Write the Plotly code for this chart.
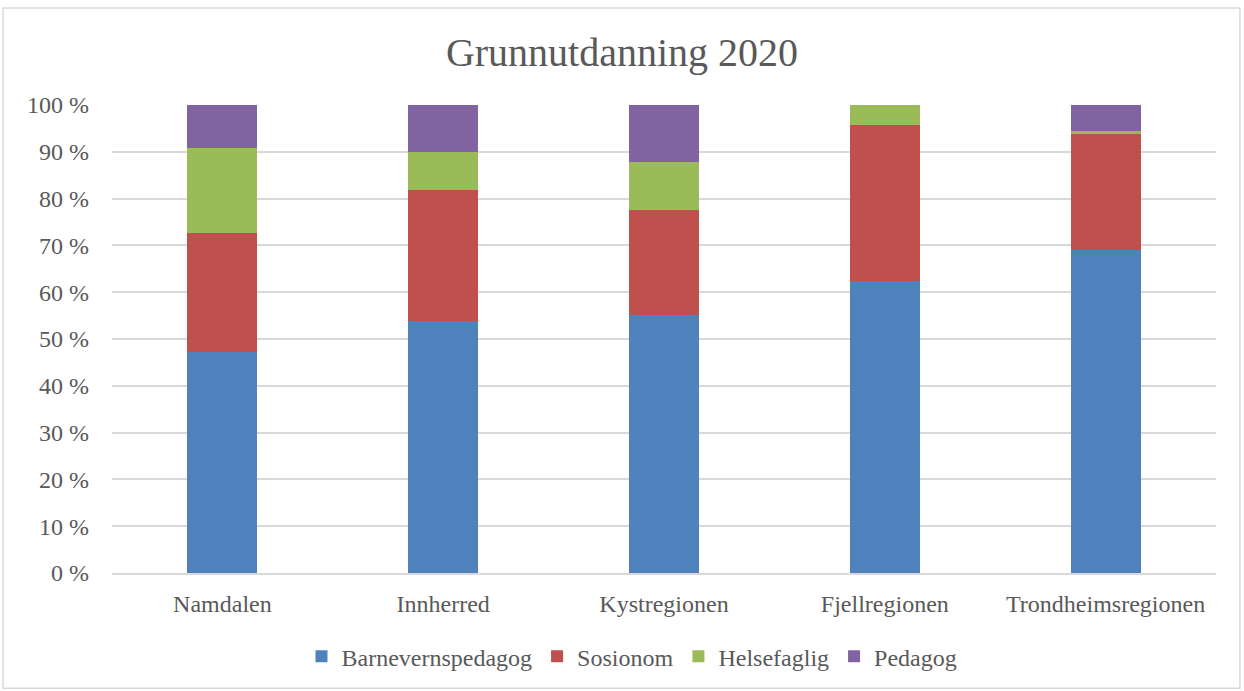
import plotly.graph_objects as go

categories = ["Namdalen", "Innherred", "Kystregionen", "Fjellregionen", "Trondheimsregionen"]
series_names = ["Barnevernspedagog", "Sosionom", "Helsefaglig", "Pedagog"]
barnevernspedagog = [47.2, 53.8, 55.1, 62.5, 69.0]
sosionom = [25.5, 28.1, 22.4, 33.3, 24.9]
helsefaglig = [18.2, 8.0, 10.3, 4.2, 0.6]
pedagog = [9.1, 10.1, 12.2, 0.0, 5.5]
tick_vals = [0, 10, 20, 30, 40, 50, 60, 70, 80, 90, 100]
tick_text = [f"{v} %" for v in tick_vals]

colors = ["#4F81BD", "#C0504D", "#9BBB59", "#8064A2"]
values = [barnevernspedagog, sosionom, helsefaglig, pedagog]

font_family = "Liberation Serif, DejaVu Serif, serif"

fig = go.Figure()
for name, vals, col in zip(series_names, values, colors):
    fig.add_trace(go.Bar(x=categories, y=vals, name=name, marker_color=col,
                         marker_line_width=0))

fig.update_layout(
    barmode="stack",
    bargap=0.683,
    width=1244, height=691,
    margin=dict(l=112, r=28, t=105, b=118),
    paper_bgcolor="white", plot_bgcolor="white",
    title=dict(text="Grunnutdanning 2020", x=0.5, xanchor="center", y=1 - 52/691, yanchor="middle",
               font=dict(family=font_family, size=40, color="#595959")),
    font=dict(family=font_family, color="#595959", size=24),
    legend=dict(orientation="h", x=0.471, xanchor="center", y=-0.179, yanchor="middle",
                font=dict(size=24, color="#595959"), traceorder="normal",
                itemwidth=30),
    showlegend=True,
)
fig.update_yaxes(range=[0, 100], tickvals=tick_vals, ticktext=tick_text,
                 showgrid=True, gridcolor="#D9D9D9", gridwidth=1.5,
                 zeroline=False, showline=False, ticks="", ticklabelstandoff=22,
                 tickfont=dict(size=24, color="#595959"))
fig.update_xaxes(showgrid=False, showline=True, linecolor="#D9D9D9", linewidth=1.5,
                 ticks="", ticklabelstandoff=8, tickfont=dict(size=24, color="#595959"))

fig.add_shape(type="rect", xref="paper", yref="paper",
              x0=-0.0987, x1=1.0217, y0=-0.246, y1=1.207,
              line=dict(color="#D9D9D9", width=1.5), fillcolor="rgba(0,0,0,0)", layer="below")

fig.write_html("out.html")
